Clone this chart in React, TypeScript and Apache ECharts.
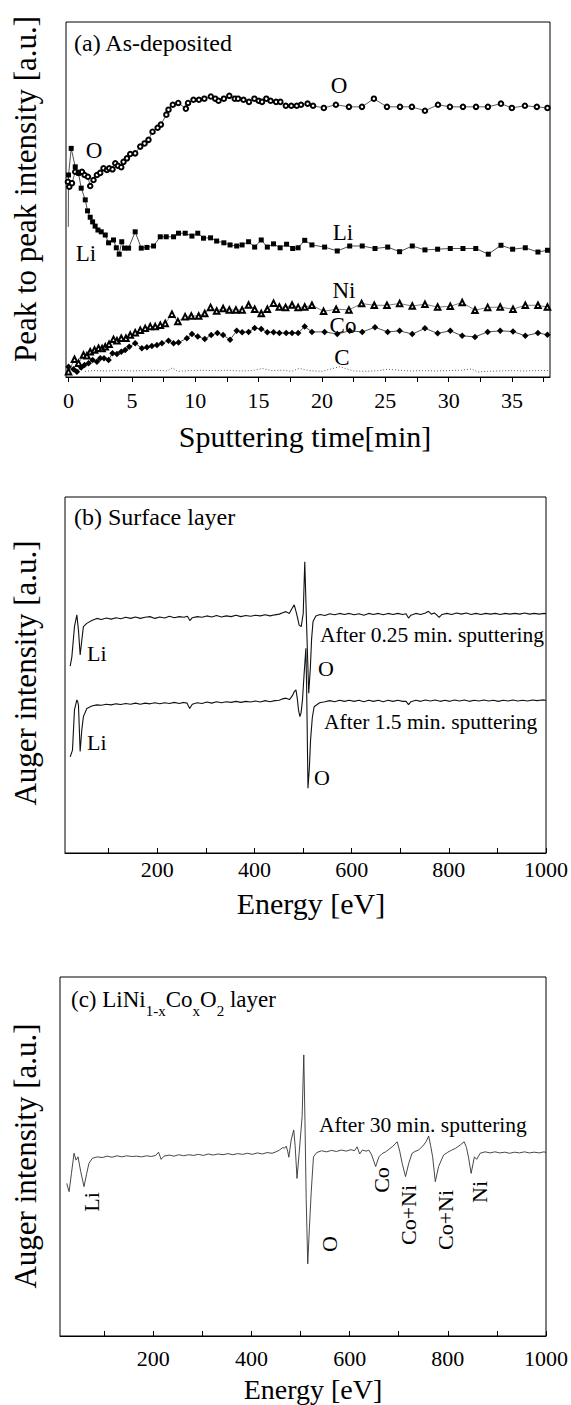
import React, { useEffect, useRef } from "react";
import * as echarts from "echarts";

const FONT = "'Liberation Serif', 'Times New Roman', Times, serif";

// ---------- Panel (a): peak-to-peak intensity vs sputtering time ----------
const A_X_LABELS = [0, 5, 10, 15, 20, 25, 30, 35];
const A_X_TICKS = [0, 2.5, 5, 7.5, 10, 12.5, 15, 17.5, 20, 22.5, 25, 27.5, 30, 32.5, 35, 37.5];

const A_O: [number, number][] = [
  [-0.05, 55.0], [0.06, 53.6], [0.27, 54.6], [0.53, 57.8], [0.8, 57.5], [1.06, 57.8], [1.27, 56.9],
  [1.53, 56.4], [1.71, 53.8], [1.97, 55.5], [2.24, 56.9], [2.5, 57.5], [2.76, 58.8], [3.03, 58.3],
  [3.21, 58.8], [3.47, 58.5], [3.69, 60.2], [3.9, 59.5], [4.16, 59.1], [4.34, 60.6], [4.61, 61.6],
  [4.87, 62.8], [5.26, 63.0], [5.66, 64.9], [6.0, 65.8], [6.31, 66.8], [6.63, 69.1], [7.03, 70.2],
  [7.29, 71.1], [7.72, 73.9], [7.89, 75.3], [8.23, 76.7], [8.66, 77.2], [9.26, 75.6], [9.43, 77.2],
  [9.86, 78.1], [10.29, 78.1], [10.72, 78.4], [11.23, 79.0], [11.58, 78.4], [11.84, 77.8], [12.26, 78.4],
  [12.69, 79.2], [13.12, 78.4], [13.38, 78.4], [13.81, 78.1], [14.24, 77.5], [14.67, 78.4], [15.01, 77.8],
  [15.27, 77.5], [15.61, 78.4], [15.95, 77.8], [16.38, 77.5], [16.72, 77.5], [17.15, 76.4], [17.58, 76.4],
  [18.01, 76.4], [18.35, 76.7], [18.87, 77.0], [19.3, 76.4], [20.15, 75.8], [21.1, 76.7], [22.13, 76.1],
  [23.16, 76.1], [24.1, 78.4], [25.13, 76.1], [26.16, 76.1], [27.1, 76.1], [28.13, 75.0], [29.16, 76.7],
  [30.1, 76.1], [31.13, 76.1], [32.16, 76.1], [33.1, 76.1], [34.13, 77.0], [34.99, 75.8], [36.02, 76.4],
  [36.96, 76.1], [37.8, 75.8],
];

const A_LI: [number, number][] = [
  [-0.02, 42.3], [0.0, 56.9], [0.21, 64.4], [0.53, 59.2], [0.79, 57.4], [1.0, 53.2], [1.32, 49.9],
  [1.5, 46.8], [1.71, 45.0], [1.9, 43.7], [2.1, 42.5], [2.32, 41.4], [2.58, 40.9], [2.9, 40.0],
  [3.16, 37.8], [3.55, 38.6], [3.77, 36.4], [4.0, 34.6], [4.2, 38.1], [4.42, 36.3], [4.74, 36.3],
  [5.26, 40.9], [5.74, 36.3], [6.19, 36.5], [6.71, 36.9], [7.24, 39.5], [7.71, 39.5], [8.29, 39.5],
  [8.68, 40.5], [9.21, 40.5], [9.74, 39.7], [10.2, 40.5], [10.65, 39.1], [11.21, 39.2], [11.69, 38.3],
  [12.26, 37.8], [12.75, 37.2], [13.27, 36.9], [13.7, 37.2], [14.21, 38.1], [14.69, 36.6], [15.21, 38.6],
  [15.69, 36.6], [16.18, 37.5], [16.7, 36.4], [17.21, 37.4], [17.69, 36.2], [18.12, 36.4], [18.64, 38.5],
  [19.21, 37.2], [20.21, 36.6], [21.21, 35.5], [22.19, 36.9], [23.18, 36.9], [24.19, 36.2], [25.19, 36.6],
  [26.13, 35.3], [27.13, 36.9], [28.13, 35.8], [29.13, 36.0], [30.13, 36.2], [31.13, 36.2], [32.14, 36.2],
  [33.13, 34.6], [34.13, 37.1], [35.05, 36.0], [36.05, 36.4], [37.05, 35.2], [37.8, 35.7],
];

const A_NI: [number, number][] = [
  [0, 1.5], [0.47, 5.0], [0.79, 3.9], [1.18, 6.2], [1.45, 6.0], [1.71, 7.1], [2.05, 7.6], [2.37, 8.1],
  [2.65, 8.0], [2.9, 8.5], [3.2, 9.2], [3.55, 10.6], [3.82, 10.2], [4.16, 10.9], [4.53, 10.9], [4.87, 11.8],
  [5.26, 12.5], [5.66, 13.2], [6.05, 13.7], [6.45, 14.2], [6.84, 14.2], [7.24, 14.6], [7.63, 15.1],
  [8.16, 17.7], [8.63, 15.6], [9.2, 17.0], [9.69, 17.2], [10.27, 17.2], [10.75, 17.9], [11.21, 19.6],
  [11.69, 18.6], [12.2, 19.3], [12.69, 18.9], [13.21, 18.9], [13.7, 18.9], [14.21, 20.3], [14.69, 19.1],
  [15.21, 17.9], [15.69, 19.1], [16.18, 20.8], [16.64, 19.7], [17.13, 19.6], [17.64, 20.3], [18.12, 19.6],
  [18.64, 19.7], [19.21, 20.2], [20.13, 18.5], [21.12, 19.1], [22.13, 18.9], [23.13, 20.7], [24.13, 20.2],
  [25.13, 20.2], [26.13, 20.7], [27.13, 20.0], [28.13, 20.5], [29.13, 19.7], [30.13, 19.9], [31.07, 21.0],
  [32.08, 18.8], [33.08, 19.6], [34.07, 19.7], [35.08, 19.1], [36.05, 20.2], [37.05, 20.2], [37.8, 19.7],
];

const A_CO: [number, number][] = [
  [0, 2.9], [0.39, 2.2], [0.66, 1.5], [1.0, 2.7], [1.26, 3.4], [1.58, 3.9], [1.9, 4.8], [2.24, 4.3],
  [2.5, 5.3], [2.8, 5.3], [3.16, 4.8], [3.47, 6.7], [3.82, 6.5], [4.16, 7.1], [4.47, 7.6], [4.79, 8.5],
  [5.26, 9.5], [5.79, 8.1], [6.19, 8.4], [6.58, 8.7], [6.98, 9.0], [7.37, 9.5], [7.89, 10.2], [8.29, 9.5],
  [8.68, 9.7], [9.34, 10.9], [9.74, 12.1], [10.2, 11.4], [10.75, 10.7], [11.26, 11.8], [11.75, 12.4],
  [12.2, 11.8], [12.75, 10.5], [13.27, 13.0], [13.7, 12.6], [14.21, 12.7], [14.69, 13.8], [15.21, 13.5],
  [15.69, 12.6], [16.18, 12.6], [16.64, 12.4], [17.18, 12.4], [17.64, 12.4], [18.12, 12.4], [18.64, 14.2],
  [19.21, 12.7], [20.21, 12.7], [21.21, 12.1], [22.19, 13.0], [23.18, 12.7], [24.19, 14.0], [25.19, 12.7],
  [26.13, 13.0], [27.13, 12.1], [28.13, 13.7], [29.13, 12.3], [30.13, 13.0], [31.07, 11.6], [32.08, 11.3],
  [33.08, 12.7], [34.07, 13.0], [35.08, 12.8], [36.05, 11.6], [37.05, 12.4], [37.8, 11.9],
];

const A_C: [number, number][] = [
  [1.3, 1.6], [2, 1.8], [3, 1.7], [4, 1.9], [5, 1.7], [6, 1.8], [7, 1.9], [7.8, 1.7], [8.2, 2.6],
  [8.6, 1.6], [9.5, 1.8], [10.5, 1.9], [11.5, 1.8], [12.5, 1.9], [13.5, 1.7], [14.5, 1.8], [15.3, 2.4],
  [16, 1.8], [17, 1.9], [17.6, 1.6], [18.2, 2.4], [19, 1.8], [20, 1.6], [21.4, 2.9], [22.5, 1.7],
  [23.5, 1.6], [24.5, 1.8], [25.2, 2.2], [26, 1.9], [27, 1.7], [28, 1.8], [29, 1.7], [30, 1.8],
  [31, 1.9], [31.8, 2.3], [32.3, 1.4], [33, 1.6], [34, 1.7], [35, 1.8], [36, 1.7], [37, 1.8], [38, 1.8],
];

// ---------- Panels (b), (c): Auger spectra ----------
const E_LABELS = [200, 400, 600, 800, 1000];
const E_TICKS = [100, 200, 300, 400, 500, 600, 700, 800, 900, 1000];

const B_UPPER: [number, number][] = [
  [20.7, 52.5], [24.1, 55.1], [29.5, 63.6], [34.4, 66.9], [37.7, 62.6], [41.2, 55.6], [44.6, 59.8],
  [47.9, 63.6], [54.9, 64.5], [65.1, 65.3], [75.4, 65.9], [85, 65.6], [95, 66.0], [105, 65.7], [115, 66.1],
  [125, 65.8], [135, 66.2], [145, 65.9], [155, 66.3], [165, 65.9], [175, 66.2], [185, 66.4], [195, 65.9],
  [205, 66.3], [215, 66.0], [225, 66.5], [235, 66.1], [245, 66.4], [255, 66.2], [262, 66.5], [267, 65.3],
  [272, 66.1], [282, 66.4], [292, 66.2], [302, 66.6], [312, 66.3], [322, 66.7], [332, 66.3], [342, 66.6],
  [352, 66.4], [362, 66.8], [372, 66.4], [382, 66.7], [392, 66.5], [402, 66.8], [412, 66.6], [422, 66.9],
  [432, 66.6], [442, 66.9], [451, 67.1], [458, 67.5], [464.8, 67.8], [471.6, 67.3], [477.1, 68.7],
  [481.8, 69.7], [486.5, 67.3], [492, 64.0], [496.2, 63.6], [500.3, 67.3], [503.5, 81.8], [507.5, 63.0],
  [511.6, 44.9], [515, 52.0], [517.5, 60.0], [520.5, 65.0], [526.3, 66.6], [535, 67.0], [545, 66.7],
  [555, 67.2], [565, 66.9], [575, 67.3], [585, 67.0], [595, 67.3], [605, 66.9], [615, 67.2], [625, 66.8],
  [635, 67.3], [645, 67.0], [655, 67.3], [665, 66.9], [675, 67.3], [685, 67.0], [695, 67.3], [705, 67.0],
  [712, 67.2], [717, 66.0], [722, 66.8], [732, 67.3], [742, 67.0], [752, 67.4], [758, 67.9], [764, 67.1],
  [770, 67.4], [775, 66.9], [780, 66.2], [786, 67.0], [796, 67.3], [806, 67.0], [816, 67.4], [826, 67.1],
  [836, 67.4], [846, 67.0], [856, 67.3], [866, 67.0], [876, 67.3], [886, 67.1], [896, 67.3], [906, 67.0],
  [916, 67.3], [926, 67.1], [936, 67.3], [946, 67.1], [956, 67.4], [966, 67.1], [976, 67.3], [986, 67.1],
  [996, 67.3], [1000, 67.2],
];

const B_LOWER: [number, number][] = [
  [20.7, 27.0], [25.4, 28.9], [29.5, 40.2], [34.4, 43.0], [36, 42.5], [37.7, 41.6], [41.2, 28.5],
  [44.6, 34.6], [47.9, 38.3], [54.9, 40.6], [65.1, 41.3], [75.4, 41.6], [85, 41.5], [95, 41.8],
  [105, 41.6], [115, 41.9], [125, 41.7], [135, 42.0], [145, 41.8], [155, 42.1], [165, 41.8], [175, 42.1],
  [185, 41.9], [195, 42.2], [205, 41.9], [215, 42.2], [225, 42.0], [235, 42.3], [245, 42.0], [255, 42.3],
  [261, 42.1], [266.6, 40.6], [272, 41.8], [282, 42.2], [292, 42.0], [302, 42.4], [312, 42.1], [322, 42.5],
  [332, 42.2], [342, 42.5], [352, 42.3], [362, 42.6], [372, 42.3], [382, 42.6], [392, 42.4], [402, 42.7],
  [412, 42.4], [422, 42.8], [432, 42.5], [442, 42.8], [451, 42.9], [458, 43.3], [464.8, 43.5], [472, 43.1],
  [478, 44.2], [481.8, 45.3], [485.3, 45.8], [488, 43.5], [490.6, 40.2], [493.5, 38.3], [496, 39.5],
  [498.8, 43.0], [502, 50.0], [505.8, 57.5], [507.5, 45.0], [510.1, 18.2], [513, 24.0], [515.4, 31.7],
  [519, 38.0], [522.8, 41.1], [534, 42.2], [545, 42.5], [555, 42.8], [565, 42.5], [575, 42.9],
  [585, 42.6], [595, 42.9], [605, 42.6], [615, 42.9], [625, 42.5], [635, 42.9], [645, 42.6], [655, 42.9],
  [665, 42.5], [675, 42.9], [685, 42.6], [695, 42.9], [705, 42.6], [712, 42.6], [717, 41.7], [722, 42.5],
  [732, 42.9], [742, 42.6], [752, 43.0], [762, 42.7], [772, 43.0], [782, 42.6], [792, 42.9], [802, 42.6],
  [812, 43.0], [822, 42.7], [832, 43.0], [842, 42.6], [852, 42.9], [862, 42.7], [872, 43.0], [882, 42.7],
  [892, 42.9], [902, 42.6], [912, 42.9], [922, 42.7], [932, 43.0], [942, 42.7], [952, 42.9], [962, 42.7],
  [972, 43.0], [982, 42.8], [992, 43.0], [1000, 42.9],
];

const C_TRACE: [number, number][] = [
  [23.8, 42.5], [28.5, 40.2], [33.3, 45.3], [38.6, 50.9], [42.7, 49.0], [46.7, 49.9], [52.2, 45.8],
  [58.9, 41.6], [64.4, 45.3], [69, 48.1], [75.9, 49.5], [86, 49.9], [96, 49.7], [106, 50.1], [116, 49.8],
  [126, 50.2], [136, 49.9], [146, 50.2], [156, 50.0], [166, 50.1], [176, 49.9], [186, 50.2], [196, 50.0],
  [205, 50.3], [210.7, 51.2], [216, 49.2], [222, 50.1], [232, 50.4], [242, 50.1], [252, 50.5], [262, 50.2],
  [272, 50.5], [282, 50.3], [292, 50.6], [302, 50.3], [312, 50.7], [322, 50.4], [332, 50.7], [342, 50.5],
  [352, 50.8], [362, 50.5], [372, 50.8], [382, 50.6], [392, 50.9], [402, 50.6], [412, 51.0], [422, 50.7],
  [432, 51.1], [442, 50.9], [450, 51.3], [457.2, 51.8], [463.9, 52.5], [467.3, 52.3], [470.8, 52.9],
  [474, 51.3], [476.1, 49.8], [480.9, 54.6], [486.1, 57.4], [489, 53.0], [492.8, 43.9], [497.7, 51.8],
  [503.2, 61.1], [506.6, 78.3], [509, 60.0], [511.5, 38.0], [514.7, 20.1], [518, 30.0], [521.6, 39.8],
  [526.3, 49.9], [533, 51.1], [543, 51.6], [553, 51.3], [563, 51.7], [573, 51.4], [583, 51.8], [593, 51.5],
  [603, 51.9], [610, 51.6], [615.1, 52.7], [620.5, 50.7], [626, 51.8], [634, 51.5], [639, 51.8],
  [645, 50.4], [653, 47.2], [659.7, 49.9], [666, 50.8], [673.3, 51.3], [680, 52.0], [686.8, 52.7],
  [696.8, 54.1], [702, 51.5], [707, 48.1], [713.8, 44.4], [720.4, 48.1], [727.2, 50.9], [733, 51.4],
  [740.7, 51.8], [750.8, 53.2], [756, 54.2], [761, 55.7], [765, 53.0], [769.1, 49.9], [774.5, 43.0],
  [781.2, 47.2], [791.3, 50.4], [800, 51.2], [808.2, 51.8], [816, 52.3], [825.2, 53.2], [833.3, 54.1],
  [838, 52.5], [842, 49.9], [847.5, 45.3], [854.2, 49.9], [858.9, 49.2], [865.8, 50.9], [876, 51.3],
  [886, 51.0], [896, 51.3], [906, 51.0], [916, 51.2], [926, 50.9], [936, 51.2], [946, 51.0], [956, 51.3],
  [966, 51.0], [976, 51.2], [986, 51.0], [996, 51.3], [1000, 51.1],
];

function txt(text: string, x: number, y: number, size: number, align = "left", rotation = 0) {
  return {
    type: "text",
    x,
    y,
    rotation,
    silent: true,
    style: {
      text,
      font: `normal normal ${size}px ${FONT}`,
      fontSize: size,
      fontFamily: FONT,
      fill: "#000",
      align,
      verticalAlign: "middle",
      textAlign: align,
      textVerticalAlign: "middle",
    },
  };
}

function xAxisFor(grid: number, min: number, max: number, labels: number[], ticks: number[], inside: boolean, margin: number) {
  return {
    gridIndex: grid,
    type: "value",
    min,
    max,
    axisLine: { show: true, onZero: false, lineStyle: { color: "#000", width: 1 } },
    axisTick: { show: true, inside, length: 5, customValues: ticks, lineStyle: { color: "#000" } },
    axisLabel: {
      show: true,
      customValues: labels,
      fontSize: 22,
      fontFamily: FONT,
      color: "#000",
      margin,
      formatter: (v: number) => String(v),
    },
    splitLine: { show: false },
  };
}

function yAxisFor(grid: number) {
  return {
    gridIndex: grid,
    type: "value",
    min: 0,
    max: 100,
    axisLine: { show: false },
    axisTick: { show: false },
    axisLabel: { show: false },
    splitLine: { show: false },
  };
}

export default function App() {
  const ref = useRef<HTMLDivElement>(null);

  useEffect(() => {
    if (!ref.current) return;
    const chart = echarts.init(ref.current, undefined, { renderer: "svg" });
    const border = { show: true, borderColor: "#000", borderWidth: 1, backgroundColor: "transparent" };
    const liData = A_LI.map((p, i) => (i === 0 ? { value: p, symbol: "none" } : { value: p }));

    chart.setOption({
      animation: false,
      backgroundColor: "#fff",
      textStyle: { fontFamily: FONT },
      grid: [
        { left: 66, top: 22, width: 484, height: 355, ...border },
        { left: 65, top: 497, width: 484, height: 356, ...border },
        { left: 60, top: 977, width: 488, height: 359, ...border },
      ],
      xAxis: [
        xAxisFor(0, -0.2, 38, A_X_LABELS, A_X_TICKS, false, 12),
        xAxisFor(1, 10, 1000, E_LABELS, E_TICKS, true, 5),
        xAxisFor(2, 10, 1000, E_LABELS, E_TICKS, true, 11),
      ],
      yAxis: [yAxisFor(0), yAxisFor(1), yAxisFor(2)],
      series: [
        {
          type: "line", name: "O", xAxisIndex: 0, yAxisIndex: 0, data: A_O,
          symbol: "emptyCircle", symbolSize: 4.5,
          lineStyle: { color: "#333", width: 0.8 }, itemStyle: { color: "#000", borderWidth: 0.7 },
        },
        {
          type: "line", name: "Li", xAxisIndex: 0, yAxisIndex: 0, data: liData,
          symbol: "rect", symbolSize: 5,
          lineStyle: { color: "#222", width: 0.8 }, itemStyle: { color: "#000" },
        },
        {
          type: "line", name: "Ni", xAxisIndex: 0, yAxisIndex: 0, data: A_NI,
          symbol: "emptyTriangle", symbolSize: 5.5,
          lineStyle: { color: "#444", width: 0.7 }, itemStyle: { color: "#000", borderWidth: 0.7 },
        },
        {
          type: "line", name: "Co", xAxisIndex: 0, yAxisIndex: 0, data: A_CO,
          symbol: "diamond", symbolSize: 6.5,
          lineStyle: { color: "#222", width: 0.8 }, itemStyle: { color: "#000" },
        },
        {
          type: "line", name: "C", xAxisIndex: 0, yAxisIndex: 0, data: A_C,
          showSymbol: false, symbol: "none",
          lineStyle: { color: "#333", width: 0.8, type: [1, 2] },
        },
        {
          type: "line", name: "After 0.25 min", xAxisIndex: 1, yAxisIndex: 1, data: B_UPPER,
          showSymbol: false, symbol: "none", lineStyle: { color: "#111", width: 1.1 },
        },
        {
          type: "line", name: "After 1.5 min", xAxisIndex: 1, yAxisIndex: 1, data: B_LOWER,
          showSymbol: false, symbol: "none", lineStyle: { color: "#111", width: 1.1 },
        },
        {
          type: "line", name: "After 30 min", xAxisIndex: 2, yAxisIndex: 2, data: C_TRACE,
          showSymbol: false, symbol: "none", lineStyle: { color: "#333", width: 0.9 },
        },
      ],
      graphic: [
        // panel (a)
        txt("(a) As-deposited", 74, 43, 24),
        txt("O", 339, 85, 23, "center"),
        txt("O", 94, 150, 23, "center"),
        txt("Li", 86, 253, 23, "center"),
        txt("Li", 343, 232, 23, "center"),
        txt("Ni", 344, 290, 23, "center"),
        txt("Co", 343, 325, 23, "center"),
        txt("C", 342, 357, 23, "center"),
        txt("Sputtering time[min]", 305, 436, 30, "center"),
        txt("Peak to peak intensity [a.u.]", 25, 189, 31, "center", Math.PI / 2),
        // panel (b)
        txt("(b) Surface layer", 74, 517, 24),
        txt("After 0.25 min. sputtering", 320, 635, 21.5),
        txt("Li", 87, 653, 22),
        txt("O", 318, 668, 22),
        txt("After 1.5 min. sputtering", 324, 722, 21.5),
        txt("Li", 87, 742, 22),
        txt("O", 314, 777, 22),
        txt("Energy [eV]", 311, 903, 30, "center"),
        txt("Auger intensity [a.u.]", 25, 673, 31, "center", Math.PI / 2),
        // panel (c)
        {
          type: "text",
          x: 71,
          y: 988,
          silent: true,
          style: {
            text: "{m|(c) LiNi}{s|1-x}{m|Co}{s|x}{m|O}{s|2}{m| layer}",
            fontFamily: FONT,
            fontSize: 23,
            fill: "#000",
            align: "left",
            verticalAlign: "top",
            rich: {
              m: { fontSize: 23, fontFamily: FONT, lineHeight: 26, verticalAlign: "top", fill: "#000" },
              s: { fontSize: 15, fontFamily: FONT, lineHeight: 15, verticalAlign: "top", padding: [15, 0, 0, 0], fill: "#000" },
            },
          },
        },
        txt("After 30 min. sputtering", 319, 1125, 21.5),
        txt("Li", 91, 1202, 22, "center", Math.PI / 2),
        txt("O", 329, 1244, 22, "center", Math.PI / 2),
        txt("Co", 381, 1180, 22, "center", Math.PI / 2),
        txt("Co+Ni", 408, 1215, 22, "center", Math.PI / 2),
        txt("Co+Ni", 445, 1220, 22, "center", Math.PI / 2),
        txt("Ni", 479, 1192, 22, "center", Math.PI / 2),
        txt("Energy [eV]", 313, 1389, 28, "center"),
        txt("Auger intensity [a.u.]", 25, 1156, 31, "center", Math.PI / 2),
      ],
    });

    return () => chart.dispose();
  }, []);

  return (
    <div
      ref={ref}
      style={{ position: "absolute", left: 0, top: 0, width: 571, height: 1405, background: "#fff" }}
    />
  );
}
